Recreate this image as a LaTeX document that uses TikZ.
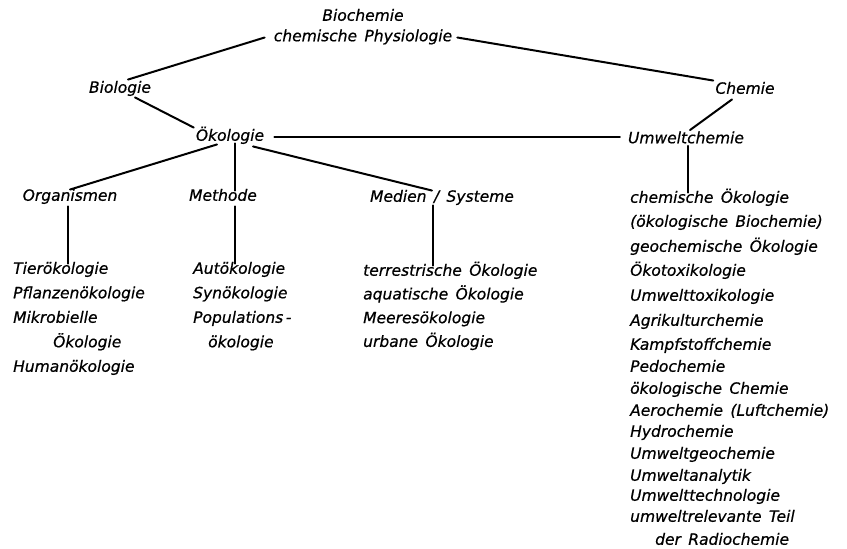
\documentclass[tikz,border=0pt]{standalone}
\usepackage{fontspec}
\setmainfont{DejaVu Sans}
\newfontfamily\handfont[WordSpace=1.5,FakeBold=0.6]{DejaVu Sans Oblique}
\begin{document}
\begin{tikzpicture}[x=1pt,y=-1pt,
  lbl/.style={font=\handfont\fontsize{15.5}{18}\selectfont, text height=11pt, text depth=3.5pt, inner sep=2pt},
  item/.style={lbl, anchor=west},
  conn/.style={line width=2pt, line cap=round}]
\useasboundingbox (0,0) rectangle (847,549);
% top nodes
\node[lbl] (bioch) at (363,17) {Biochemie};
\node[lbl] (phys) at (363,37.5) {chemische Physiologie};
\node[lbl] (bio) at (120,89) {Biologie};
\node[lbl] (chem) at (745,90) {Chemie};
\node[lbl] (oek) at (230,137) {Ökologie};
\node[lbl] (umw) at (686,139.5) {Umweltchemie};
\node[lbl] (org) at (70,197) {Organismen};
\node[lbl] (meth) at (223,197) {Methode};
\node[lbl] (med) at (442,198) {Medien / Systeme};
% lists
\foreach \t [count=\i] in {Tierökologie, Pflanzenökologie, Mikrobielle, \hspace{40pt}Ökologie, Humanökologie}
  \node[item] (A\i) at (11,{270+24.5*(\i-1)}) {\t};
\foreach \t [count=\i] in {Autökologie, Synökologie, Populations\,-, \hspace{15pt}ökologie}
  \node[item] (B\i) at (191,{270+24.5*(\i-1)}) {\t};
\foreach \t [count=\i] in {terrestrische\ Ökologie, aquatische\ Ökologie, Meeresökologie, urbane\ Ökologie}
  \node[item] (C\i) at (361,{272+23.7*(\i-1)}) {\t};
\foreach \t/\y [count=\i] in {chemische\ Ökologie/199, (ökologische\ Biochemie)/223, geochemische\ Ökologie/248, Ökotoxikologie/272, Umwelttoxikologie/297, Agrikulturchemie/322, Kampfstoffchemie/346, Pedochemie/368, ökologische\ Chemie/390, Aerochemie\ (Luftchemie)/412, Hydrochemie/433, Umweltgeochemie/455, Umweltanalytik/477, Umwelttechnologie/497, umweltrelevante\ Teil/518, \hspace{25pt}der Radiochemie/541}
  \node[item] (D\i) at (628,\y) {\t};
% connectors
\draw[conn] ([xshift=8pt]bio.north) -- ([xshift=-7pt]phys.west);
\draw[conn] ([xshift=3pt]phys.east) -- (chem.north west);
\draw[conn] ([xshift=15pt,yshift=1pt]bio.south) -- (oek.north west);
\draw[conn] ([xshift=8pt]oek.east) -- ([xshift=-6pt]oek.east -| umw.west);
\draw[conn] ([xshift=-13pt]chem.south) -- ([xshift=4pt]umw.north);
\draw[conn] ([xshift=2pt,yshift=3pt]umw.south) -- ([xshift=2pt,yshift=-3pt]umw.south |- D1.north);
\draw[conn] ([xshift=-13pt,yshift=2pt]oek.south) -- ([yshift=-2pt]org.north);
\draw[conn] ([xshift=5pt,yshift=3pt]oek.south) -- ([xshift=5pt,yshift=-3pt]oek.south |- meth.north);
\draw[conn] ([xshift=23pt]oek.south) -- ([xshift=-10pt,yshift=-2pt]med.north);
\draw[conn] ([xshift=-2pt]org.south) -- ([xshift=-2pt,yshift=-3pt]org.south |- A1.north);
\draw[conn] ([xshift=12pt]meth.south) -- ([xshift=12pt,yshift=-3pt]meth.south |- B1.north);
\draw[conn] ([xshift=-9pt,yshift=2pt]med.south) -- ([xshift=-9pt,yshift=-3pt]med.south |- C1.north);
\end{tikzpicture}
\end{document}
